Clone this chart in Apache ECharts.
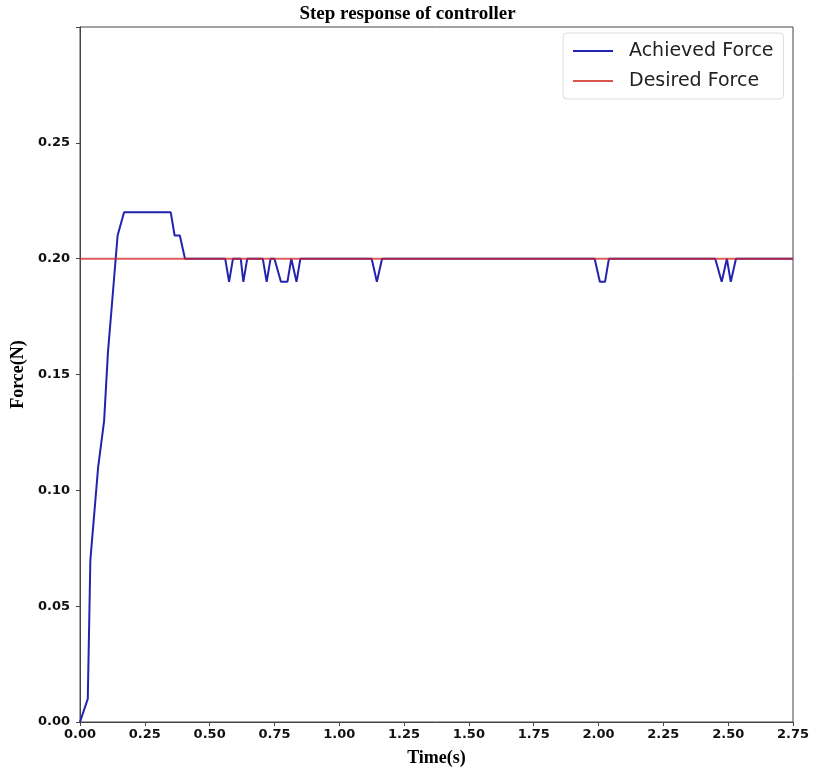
<!DOCTYPE html>
<html>
<head>
<meta charset="utf-8">
<script src="https://cdn.jsdelivr.net/npm/echarts@6/dist/echarts.min.js"></script>
<style>html,body{margin:0;padding:0;background:#fff}#c{width:815px;height:770px}</style>
</head>
<body>
<div id="c"></div>
<script>
const timeAchieved = [0, 0.03, 0.04, 0.07, 0.093, 0.108, 0.123, 0.145, 0.17, 0.35, 0.365, 0.385, 0.405,
  0.56, 0.575, 0.59, 0.62, 0.63, 0.645, 0.705, 0.72, 0.735, 0.75, 0.775, 0.80, 0.815, 0.835, 0.85,
  1.125, 1.145, 1.165, 1.985, 2.005, 2.025, 2.04, 2.45, 2.475, 2.495, 2.51, 2.53, 2.75];
const forceAchieved = [0, 0.01, 0.07, 0.11, 0.13, 0.16, 0.18, 0.21, 0.22, 0.22, 0.21, 0.21, 0.20,
  0.20, 0.19, 0.20, 0.20, 0.19, 0.20, 0.20, 0.19, 0.20, 0.20, 0.19, 0.19, 0.20, 0.19, 0.20,
  0.20, 0.19, 0.20, 0.20, 0.19, 0.19, 0.20, 0.20, 0.19, 0.20, 0.19, 0.20, 0.20];
const timeDesired = [0, 2.75];
const forceDesired = [0.20, 0.20];
const xTicks = [0, 0.25, 0.5, 0.75, 1.0, 1.25, 1.5, 1.75, 2.0, 2.25, 2.5, 2.75];
const yTicks = [0, 0.05, 0.10, 0.15, 0.20, 0.25];
const seriesNames = ['Achieved Force', 'Desired Force'];

const chart = echarts.init(document.getElementById('c'), null, {renderer: 'canvas'});
const serif = 'Liberation Serif';
const sans = 'DejaVu Sans';
chart.setOption({
  animation: false,
  backgroundColor: '#fff',
  title: {
    text: 'Step response of controller',
    left: 'center', top: 0,
    textStyle: {fontFamily: serif, fontWeight: 'bold', fontSize: 19, color: '#000'}
  },
  legend: {
    data: seriesNames,
    orient: 'vertical',
    left: 563, top: 33,
    padding: [7, 10, 7, 10],
    itemGap: 8,
    itemWidth: 40, itemHeight: 2,
    icon: 'rect',
    backgroundColor: '#fff',
    borderColor: '#ddd', borderWidth: 1, borderRadius: 4,
    textStyle: {fontFamily: sans, fontSize: 19, color: '#222', lineHeight: 22, padding: [0, 0, 0, 11]}
  },
  grid: {left: 80, right: 22, top: 27, bottom: 48, show: true, borderColor: '#444', borderWidth: 1,
    outerBoundsMode: 'none', containLabel: false},
  xAxis: {
    type: 'value', min: 0, max: 2.75, interval: 0.25,
    name: 'Time(s)', nameLocation: 'middle', nameGap: 27,
    nameTextStyle: {fontFamily: serif, fontWeight: 'bold', fontSize: 18, color: '#000'},
    axisLine: {show: true, lineStyle: {color: '#444'}},
    axisTick: {show: true, length: 4, lineStyle: {color: '#444'}},
    splitLine: {show: false},
    axisLabel: {fontFamily: sans, fontWeight: 'bold', fontSize: 13, color: '#111', margin: 6,
      formatter: v => xTicks.some(t => Math.abs(t - v) < 1e-9) ? v.toFixed(2) : ''}
  },
  yAxis: {
    type: 'value', min: 0, max: 0.3, interval: 0.05,
    name: 'Force(N)', nameLocation: 'middle', nameGap: 49,
    nameTextStyle: {fontFamily: serif, fontWeight: 'bold', fontSize: 18, color: '#000'},
    axisLine: {show: true, lineStyle: {color: '#444'}},
    axisTick: {show: true, length: 4, lineStyle: {color: '#444'}},
    splitLine: {show: false},
    axisLabel: {fontFamily: sans, fontWeight: 'bold', fontSize: 13, color: '#111', margin: 10,
      formatter: v => yTicks.some(t => Math.abs(t - v) < 1e-9) ? v.toFixed(2) : ''}
  },
  series: [
    {
      name: seriesNames[0], type: 'line', symbol: 'none',
      data: timeAchieved.map((t, i) => [t, forceAchieved[i]]),
      lineStyle: {color: '#2323b0', width: 2}, itemStyle: {color: '#2323b0'}, z: 2
    },
    {
      name: seriesNames[1], type: 'line', symbol: 'none',
      data: timeDesired.map((t, i) => [t, forceDesired[i]]),
      lineStyle: {color: '#d62728', width: 2, opacity: 0.75}, itemStyle: {color: '#d9534f'}, z: 3
    }
  ]
});
</script>
</body>
</html>
